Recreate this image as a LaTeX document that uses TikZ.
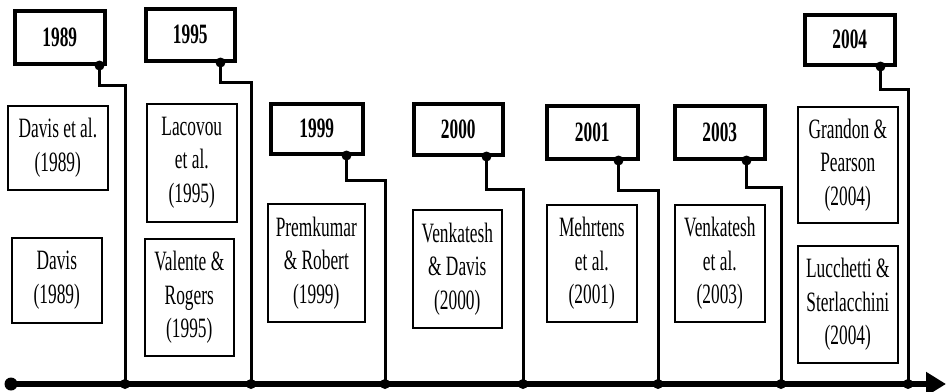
\documentclass[tikz,border=0pt]{standalone}
\usepackage{fontspec}
\setmainfont{Liberation Serif}[FakeStretch=0.62]
\usetikzlibrary{arrows.meta}
\begin{document}
\begin{tikzpicture}[x=1pt,y=-1pt,
  yearbox/.style={draw, line width=3.5pt, anchor=north west, inner sep=0pt,
    font=\fontsize{28}{33}\selectfont\bfseries},
  refbox/.style={draw, line width=1.6pt, anchor=north west, inner sep=0pt,
    align=center, font=\fontsize{28}{33.5}\selectfont},
  conn/.style={line width=3pt},
  axisline/.style={line width=6.5pt, -{Triangle[length=20pt,width=23pt]}}]
\useasboundingbox (0,0) rectangle (948,391);
% axis
\coordinate (ax0) at (11,384);
\coordinate (ax1) at (946,384);
\draw[axisline] (ax0) -- (ax1);
\fill (ax0) circle (6.5pt);
% axis ticks
\coordinate (t1) at (125,384);
\coordinate (t2) at (251,384);
\coordinate (t3) at (385,384);
\coordinate (t4) at (523,384);
\coordinate (t5) at (658,384);
\coordinate (t6) at (781,384);
\coordinate (t7) at (908,384);
% year boxes
\node[yearbox, minimum width=90pt, minimum height=53pt] (y1) at (13,9) {1989};
\node[yearbox, minimum width=89pt, minimum height=52pt] (y2) at (144,7) {1995};
\node[yearbox, minimum width=92pt, minimum height=50pt] (y3) at (269,102) {1999};
\node[yearbox, minimum width=89pt, minimum height=51pt] (y4) at (412,102) {2000};
\node[yearbox, minimum width=91pt, minimum height=53pt] (y5) at (545,104) {2001};
\node[yearbox, minimum width=90pt, minimum height=53pt] (y6) at (673,104) {2003};
\node[yearbox, minimum width=90pt, minimum height=50pt] (y7) at (803,13) {2004};
% connectors
\draw[conn] ([xshift=-7pt]y1.south east) coordinate (s1) -- ++(0,20) -| (t1);
\draw[conn] ([xshift=-16pt]y2.south east) coordinate (s2) -- ++(0,20) -| (t2);
\draw[conn] ([xshift=-18pt]y3.south east) coordinate (s3) -- ++(0,25) -| (t3);
\draw[conn] ([xshift=-18pt]y4.south east) coordinate (s4) -- ++(0,33) -| (t4);
\draw[conn] ([xshift=-21pt]y5.south east) coordinate (s5) -- ++(0,30) -| (t5);
\draw[conn] ([xshift=-20pt]y6.south east) coordinate (s6) -- ++(0,27) -| (t6);
\draw[conn] ([xshift=-16pt]y7.south east) coordinate (s7) -- ++(0,23) -| (t7);
\foreach \p in {s1,s2,s3,s4,s5,s6,s7} \fill (\p) circle (5pt);
\foreach \p in {t1,t2,t3,t4,t5,t6,t7} \fill (\p) circle (5pt);
% reference boxes
\node[refbox, minimum width=100pt, minimum height=84pt] (r1) at (7,105) {Davis et al.\\(1989)};
\node[refbox, minimum width=90pt, minimum height=85pt] (r2) at (11,237) {Davis\\(1989)};
\node[refbox, minimum width=90pt, minimum height=118pt] (r3) at (146,103) {Lacovou\\et al.\\(1995)};
\node[refbox, minimum width=89pt, minimum height=117pt] (r4) at (144,238) {Valente \&\\Rogers\\(1995)};
\node[refbox, minimum width=97pt, minimum height=118pt] (r5) at (267,203) {Premkumar\\\& Robert\\(1999)};
\node[refbox, minimum width=89pt, minimum height=118pt] (r6) at (412,209) {Venkatesh\\\& Davis\\(2000)};
\node[refbox, minimum width=90pt, minimum height=117pt] (r7) at (546,204) {Mehrtens\\et al.\\(2001)};
\node[refbox, minimum width=90pt, minimum height=117pt] (r8) at (674,204) {Venkatesh\\et al.\\(2003)};
\node[refbox, minimum width=100pt, minimum height=116pt] (r9) at (797,106) {Grandon \&\\Pearson\\(2004)};
\node[refbox, minimum width=100pt, minimum height=117pt] (r10) at (797,245) {Lucchetti \&\\Sterlacchini\\(2004)};
\end{tikzpicture}
\end{document}
